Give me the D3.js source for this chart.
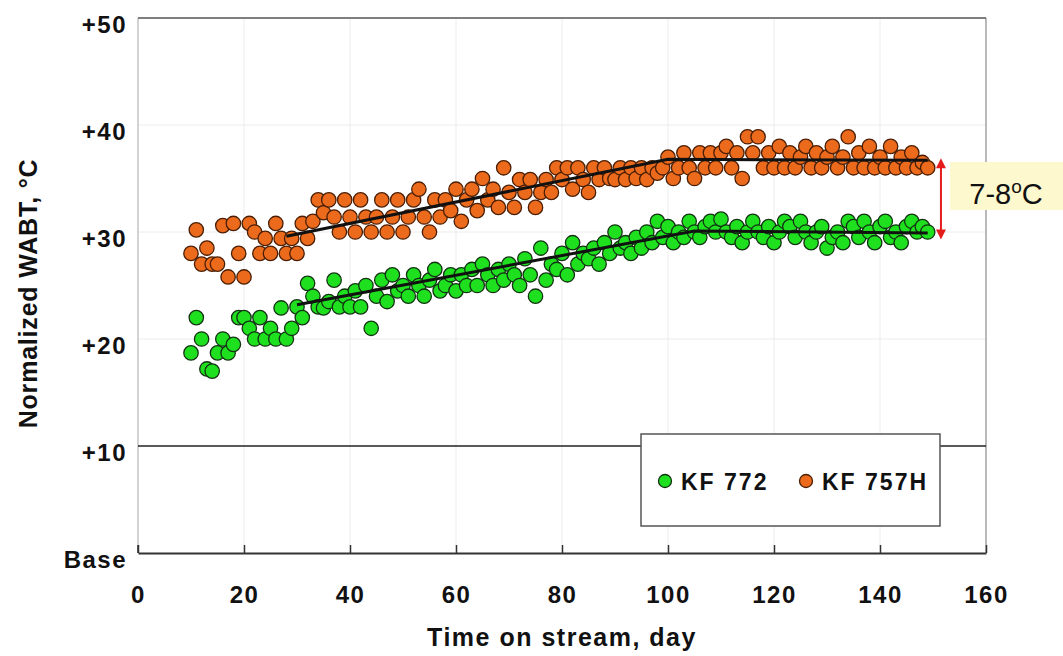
<!DOCTYPE html>
<html>
<head>
<meta charset="utf-8">
<script src="https://cdn.jsdelivr.net/npm/d3@7"></script>
<style>
  body { margin: 0; background: #fff; }
  svg text { font-family: "Liberation Sans", Arial, sans-serif; fill: #111; }
</style>
</head>
<body>
<div id="chart"></div>
<script>
// days on stream
const days = [
  10, 11, 12, 13, 14, 15, 16, 17, 18, 19,
  20, 21, 22, 23, 24, 25, 26, 27, 28, 29,
  30, 31, 32, 33, 34, 35, 36, 37, 38, 39,
  40, 41, 42, 43, 44, 45, 46, 47, 48, 49,
  50, 51, 52, 53, 54, 55, 56, 57, 58, 59,
  60, 61, 62, 63, 64, 65, 66, 67, 68, 69,
  70, 71, 72, 73, 74, 75, 76, 77, 78, 79,
  80, 81, 82, 83, 84, 85, 86, 87, 88, 89,
  90, 91, 92, 93, 94, 95, 96, 97, 98, 99,
  100, 101, 102, 103, 104, 105, 106, 107, 108, 109,
  110, 111, 112, 113, 114, 115, 116, 117, 118, 119,
  120, 121, 122, 123, 124, 125, 126, 127, 128, 129,
  130, 131, 132, 133, 134, 135, 136, 137, 138, 139,
  140, 141, 142, 143, 144, 145, 146, 147, 148, 149
];

// normalized WABT, KF 772
const kf772 = [
  18.7, 22, 20, 17.2, 17, 18.7, 20, 18.7, 19.5, 22,
  22, 21, 20, 22, 20, 21, 20, 22.9, 20, 21,
  23, 22, 25.2, 24, 23, 22.9, 23.5, 25.5, 23, 24,
  23, 24.5, 23, 25, 21, 24, 25.5, 23.5, 26, 24.5,
  25, 24, 26, 25, 24, 25.5, 26.5, 24.5, 25, 26,
  24.5, 26, 25, 26.5, 25, 27, 26, 25, 26.5, 25.5,
  27, 26, 25, 27.5, 26, 24, 28.5, 25.5, 27, 26.5,
  28, 26, 29, 27, 28, 27.5, 28.5, 27, 29, 28,
  30, 28.5, 29, 28, 29.5, 28.5, 30, 29, 31, 29.5,
  30.5, 29, 30, 29.5, 31, 30, 29.5, 30.5, 31, 30,
  31.2, 30, 29.5, 30.5, 29, 30, 31, 30, 29.5, 30.5,
  29, 30, 31, 30.5, 29.5, 31, 30, 29, 30, 30.5,
  28.5, 29.5, 30, 29, 31, 30.5, 29.5, 31, 30, 29,
  30.5, 31, 29.5, 30, 29, 30.5, 31, 30, 30.5, 30
];

// normalized WABT, KF 757H
const kf757h = [
  28, 30.2, 27, 28.5, 27, 27, 30.6, 25.8, 30.8, 28,
  25.8, 30.8, 30, 28, 29.4, 28, 30.8, 29.4, 28, 29.4,
  28, 30.8, 29.4, 31, 33, 31.8, 33, 31.4, 30, 33,
  31.4, 30, 33, 31.4, 30, 31.4, 33, 30, 31.4, 33,
  30, 31.4, 33, 34, 31.4, 30, 33, 31.4, 33, 32,
  34, 31, 33, 34, 32, 35, 33, 34, 32.3, 36,
  33.7, 32.3, 34.9, 33.7, 34.9, 32.3, 33.7, 34.9, 33.7, 36,
  34.9, 36, 34, 36, 34.9, 33.7, 36, 34.9, 36, 35,
  34.9, 36, 34.9, 36, 35, 36, 34.9, 36, 35.5, 36,
  37, 35, 36, 37.4, 36, 35, 37.4, 36, 37.4, 36,
  37.4, 38, 36, 37.4, 35, 38.9, 37.4, 38.9, 36, 37.4,
  36, 38, 36, 37.4, 36, 37, 38, 36, 37.4, 36,
  37, 38, 36, 37, 38.9, 36, 37.4, 36, 38, 36,
  37, 36, 38, 36, 37, 36, 37.4, 36, 36.5, 36
];

// trend lines [day, value]
const trend772 = [[30, 23.2], [105, 30.1], [149, 29.9]];
const trend757h = [[28, 29.6], [100, 36.8], [149, 36.7]];

const xTicks = [0, 20, 40, 60, 80, 100, 120, 140, 160];
const yTicks = [0, 10, 20, 30, 40, 50];
const yTickLabels = ['Base', '+10', '+20', '+30', '+40', '+50'];

const seriesNames = ['KF 772', 'KF 757H'];
const gapLabel = '7-8';

const colors = {
  green: '#1fe01f', greenStroke: '#123312',
  orange: '#ec6a1c', orangeStroke: '#4a1e04'
};

const width = 1063, height = 656;
const svg = d3.select('#chart').append('svg')
  .attr('width', width)
  .attr('height', height);

const x = d3.scaleLinear().domain([0, 160]).range([138, 986]);
const y = d3.scaleLinear().domain([0, 50]).range([553, 18]);

// faint grid
svg.append('g')
  .selectAll('line')
  .data(xTicks.slice(1, -1))
  .join('line')
  .attr('x1', d => x(d)).attr('x2', d => x(d))
  .attr('y1', y(50)).attr('y2', y(0))
  .attr('stroke', '#ececec');

svg.append('g')
  .selectAll('line')
  .data([20, 30, 40])
  .join('line')
  .attr('x1', x(0)).attr('x2', x(160))
  .attr('y1', d => y(d)).attr('y2', d => y(d))
  .attr('stroke', '#ececec');

// frame
svg.append('line')
  .attr('x1', x(0)).attr('x2', x(0)).attr('y1', y(50)).attr('y2', y(0))
  .attr('stroke', '#c4c4c4').attr('stroke-width', 1.5);
svg.append('line')
  .attr('x1', x(160)).attr('x2', x(160)).attr('y1', y(50)).attr('y2', y(0))
  .attr('stroke', '#8a8a8a').attr('stroke-width', 1.2);
svg.append('line')
  .attr('x1', x(0)).attr('x2', x(160)).attr('y1', y(50)).attr('y2', y(50))
  .attr('stroke', '#555').attr('stroke-width', 1.5);

// +10 reference line
svg.append('line')
  .attr('x1', x(0)).attr('x2', x(160)).attr('y1', y(10)).attr('y2', y(10))
  .attr('stroke', '#222').attr('stroke-width', 1.5);

// x axis, ticks pointing up
const xAxis = d3.axisBottom(x)
  .tickValues(xTicks)
  .tickSizeInner(-8)
  .tickSizeOuter(0)
  .tickPadding(33);

const gx = svg.append('g')
  .attr('transform', `translate(0,${y(0)})`)
  .call(xAxis);
gx.select('.domain').attr('stroke', '#333').attr('stroke-width', 2);
gx.selectAll('.tick line').attr('stroke', '#333').attr('stroke-width', 1.5);
gx.selectAll('.tick text')
  .attr('font-size', 24)
  .attr('font-weight', 'bold')
  .attr('letter-spacing', 1.5)
  .attr('fill', '#111')
  .attr('font-family', '"Liberation Sans", Arial, sans-serif');

// y axis labels only
const yAxis = d3.axisLeft(y)
  .tickValues(yTicks)
  .tickFormat((d, i) => yTickLabels[i])
  .tickSize(0)
  .tickPadding(11);

const gy = svg.append('g')
  .attr('transform', `translate(${x(0)},0)`)
  .call(yAxis);
gy.select('.domain').remove();
gy.selectAll('.tick text')
  .attr('font-size', 24)
  .attr('font-weight', 'bold')
  .attr('letter-spacing', 1.5)
  .attr('fill', '#111')
  .attr('dy', '0.6em')
  .attr('font-family', '"Liberation Sans", Arial, sans-serif');

// small tick at base
svg.append('line')
  .attr('x1', x(0)).attr('x2', x(0)).attr('y1', y(0) - 8).attr('y2', y(0))
  .attr('stroke', '#333').attr('stroke-width', 1.5);

// axis titles
svg.append('text')
  .attr('transform', `translate(37,${(y(50) + y(0)) / 2 + 8}) rotate(-90)`)
  .attr('text-anchor', 'middle')
  .attr('font-size', 25)
  .attr('font-weight', 'bold')
  .attr('letter-spacing', 0.8)
  .text('Normalized WABT, °C');

svg.append('text')
  .attr('x', 562)
  .attr('y', 646)
  .attr('text-anchor', 'middle')
  .attr('font-size', 25)
  .attr('font-weight', 'bold')
  .attr('letter-spacing', 1.5)
  .text('Time on stream, day');

// scatter points
const pts772 = days.map((d, i) => [d, kf772[i]]);
const pts757 = days.map((d, i) => [d, kf757h[i]]);

svg.append('g')
  .selectAll('circle')
  .data(pts757)
  .join('circle')
  .attr('cx', d => x(d[0]))
  .attr('cy', d => y(d[1]))
  .attr('r', 7.2)
  .attr('fill', colors.orange)
  .attr('stroke', colors.orangeStroke)
  .attr('stroke-width', 1.3);

svg.append('g')
  .selectAll('circle')
  .data(pts772)
  .join('circle')
  .attr('cx', d => x(d[0]))
  .attr('cy', d => y(d[1]))
  .attr('r', 7.2)
  .attr('fill', colors.green)
  .attr('stroke', colors.greenStroke)
  .attr('stroke-width', 1.3);

// trend lines
const line = d3.line()
  .x(d => x(d[0]))
  .y(d => y(d[1]));

[trend772, trend757h].forEach(t => {
  svg.append('path')
    .datum(t)
    .attr('d', line)
    .attr('fill', 'none')
    .attr('stroke', '#111')
    .attr('stroke-width', 3);
});

// legend
const legend = svg.append('g');
legend.append('rect')
  .attr('x', 641).attr('y', 434)
  .attr('width', 299).attr('height', 92)
  .attr('fill', '#fff')
  .attr('stroke', '#555')
  .attr('stroke-width', 1.5);

const legendItems = [
  { name: seriesNames[0], cx: 665, fill: colors.green, stroke: colors.greenStroke },
  { name: seriesNames[1], cx: 806, fill: colors.orange, stroke: colors.orangeStroke }
];
legendItems.forEach(it => {
  legend.append('circle')
    .attr('cx', it.cx).attr('cy', 481)
    .attr('r', 6.5)
    .attr('fill', it.fill)
    .attr('stroke', it.stroke)
    .attr('stroke-width', 1.3);
  legend.append('text')
    .attr('x', it.cx + 16)
    .attr('y', 490)
    .attr('font-size', 23)
    .attr('font-weight', 'bold')
    .attr('letter-spacing', 2)
    .text(it.name);
});

// gap annotation
const ax = x(151.5);
const yTop = y(36.9), yBot = y(29.3);
svg.append('line')
  .attr('x1', ax).attr('x2', ax)
  .attr('y1', yTop + 6).attr('y2', yBot - 6)
  .attr('stroke', '#e41c1c').attr('stroke-width', 2);
svg.append('path')
  .attr('d', `M${ax},${yTop} l-5,10 l10,0 z M${ax},${yBot} l-5,-10 l10,0 z`)
  .attr('fill', '#e41c1c');

svg.append('rect')
  .attr('x', 950).attr('y', 162)
  .attr('width', 113).attr('height', 48)
  .attr('fill', '#fdf8cd');

const gap = svg.append('text')
  .attr('x', 1006)
  .attr('y', 204)
  .attr('text-anchor', 'middle')
  .attr('font-size', 29)
  .attr('fill', '#222');
gap.append('tspan').text(gapLabel);
gap.append('tspan').attr('font-size', 19).attr('dy', -11).text('o');
gap.append('tspan').attr('dy', 11).text('C');
</script>
</body>
</html>
